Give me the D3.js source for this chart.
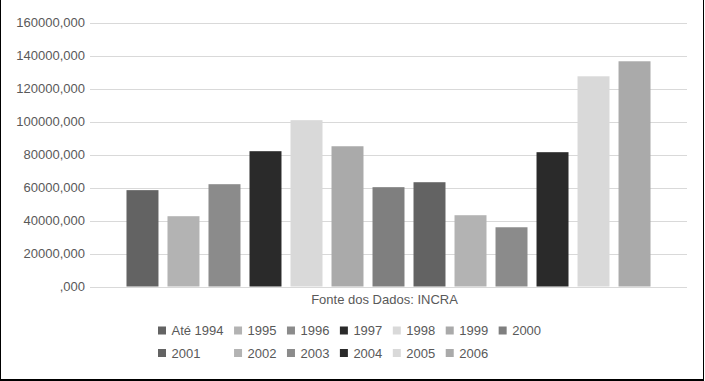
<!DOCTYPE html>
<html>
<head>
<meta charset="utf-8">
<script src="https://cdn.jsdelivr.net/npm/d3@7"></script>
<style>
  body { margin: 0; background: #fff; }
  svg text { font-family: "Liberation Sans", Arial, sans-serif; fill: #595959; }
</style>
</head>
<body>
<svg id="chart"></svg>
<script>
/////////////////////////////////
// DATA
//////////////////////////////////

var seriesNames = ["Até 1994", "1995", "1996", "1997", "1998", "1999", "2000",
                   "2001", "2002", "2003", "2004", "2005", "2006"];
var seriesValues = [58400, 42600, 62000, 82000, 100800, 85000, 60200,
                    63200, 43200, 35900, 81400, 127400, 136500];
var seriesColors = ["#636363", "#b3b3b3", "#8b8b8b", "#2a2a2a", "#d9d9d9", "#aaaaaa", "#7f7f7f",
                    "#636363", "#b3b3b3", "#8b8b8b", "#2a2a2a", "#d9d9d9", "#aaaaaa"];
var categoryLabel = "Fonte dos Dados: INCRA";
var yTicks = [0, 20000, 40000, 60000, 80000, 100000, 120000, 140000, 160000];

/////////////////////////////////
// SETUP
//////////////////////////////////

var width = 705;
var height = 381;

var plot = { left: 90, right: 687, top: 22.5, bottom: 286.5 };

var svg = d3.select("#chart")
    .attr("width", width)
    .attr("height", height);

// border: left, right, bottom (top edge is cut off in the original)
var border = svg.append("g").attr("stroke", "#000");
border.append("line").attr("x1", 0.5).attr("x2", 0.5).attr("y1", 0).attr("y2", 381).attr("stroke-width", 1);
border.append("line").attr("x1", 703.5).attr("x2", 703.5).attr("y1", 0).attr("y2", 381).attr("stroke-width", 1);
border.append("line").attr("x1", 0).attr("x2", 704).attr("y1", 380).attr("y2", 380).attr("stroke-width", 2);

/////////////////////////////////
// SCALES
//////////////////////////////////

var y = d3.scaleLinear()
    .domain([0, 160000])
    .range([plot.bottom, plot.top]);

var x = d3.scaleBand()
    .domain(seriesNames)
    .range([plot.left, plot.right])
    .paddingInner(0.22)
    .paddingOuter(0.89);

/////////////////////////////////
// GRID + Y AXIS
//////////////////////////////////

svg.append("g")
    .selectAll("line")
    .data(yTicks)
    .enter().append("line")
    .attr("x1", plot.left)
    .attr("x2", plot.right)
    .attr("y1", function(d) { return Math.round(y(d)) + 0.5; })
    .attr("y2", function(d) { return Math.round(y(d)) + 0.5; })
    .attr("stroke", "#d9d9d9")
    .attr("stroke-width", 1);

var fmt = function(d) { return (d === 0 ? "" : d) + ",000"; };

svg.append("g")
    .selectAll("text")
    .data(yTicks)
    .enter().append("text")
    .attr("x", 85)
    .attr("y", function(d) { return y(d); })
    .attr("dy", "0.36em")
    .attr("text-anchor", "end")
    .attr("font-size", "13px")
    .text(fmt);

/////////////////////////////////
// BARS
//////////////////////////////////

svg.append("g")
    .selectAll("rect")
    .data(seriesValues)
    .enter().append("rect")
    .attr("x", function(d, i) { return x(seriesNames[i]); })
    .attr("width", x.bandwidth())
    .attr("y", function(d) { return y(d); })
    .attr("height", function(d) { return y(0) - y(d); })
    .attr("fill", function(d, i) { return seriesColors[i]; });

// category label
svg.append("text")
    .attr("x", (plot.left + plot.right) / 2 - 4)
    .attr("y", 304)
    .attr("text-anchor", "middle")
    .attr("font-size", "13px")
    .text(categoryLabel);

/////////////////////////////////
// LEGEND
//////////////////////////////////

var perRow = 7;
var legend = svg.append("g");
var items = legend.selectAll("g")
    .data(seriesNames)
    .enter().append("g");

items.append("rect")
    .attr("width", 8)
    .attr("height", 8)
    .attr("fill", function(d, i) { return seriesColors[i]; });

items.append("text")
    .attr("x", 13.5)
    .attr("y", 4)
    .attr("dy", "0.36em")
    .attr("font-size", "13px")
    .text(function(d) { return d; });

// column widths from widest text in each column
var colW = [];
items.each(function(d, i) {
    var w = this.querySelector("text").getComputedTextLength();
    var c = i % perRow;
    colW[c] = Math.max(colW[c] || 0, w);
});
var colX = [158];
for (var c = 1; c < perRow; c++) {
    colX[c] = colX[c - 1] + 13.5 + colW[c - 1] + 10.5;
}

items.attr("transform", function(d, i) {
    var c = i % perRow, r = Math.floor(i / perRow);
    return "translate(" + colX[c] + "," + (326.5 + r * 22.5) + ")";
});
</script>
</body>
</html>
